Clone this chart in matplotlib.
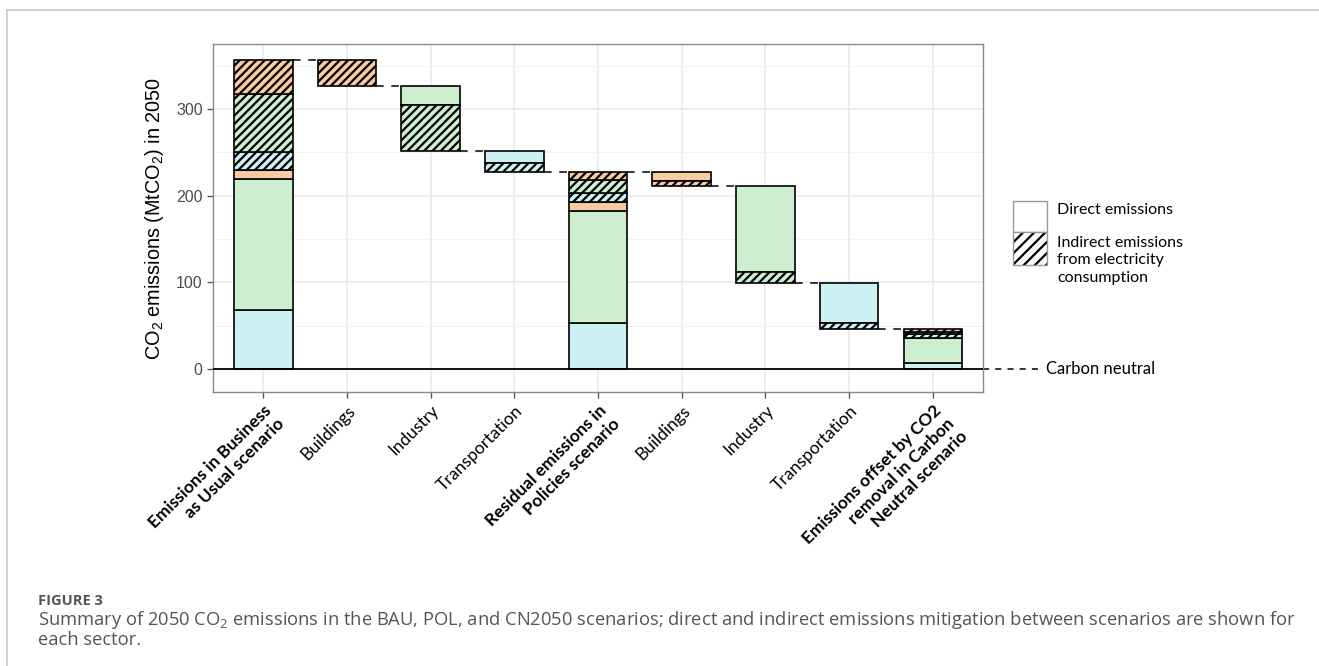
import matplotlib
matplotlib.use('Agg')
import matplotlib.pyplot as plt
from matplotlib.patches import Rectangle
from matplotlib.lines import Line2D
import numpy as np

# x axis categories
categories = ['Emissions in Business\nas Usual scenario', 'Buildings', 'Industry', 'Transportation',
              'Residual emissions in\nPolicies scenario', 'Buildings', 'Industry', 'Transportation',
              'Emissions offset by CO2\nremoval in Carbon\nNeutral scenario']
scenario_labels = [0, 4, 8]

# sector order in the stacks: transportation, industry, buildings  (MtCO2 in 2050)
sectors = ['Transportation', 'Industry', 'Buildings']
sector_colors = ['#cdf2f3', '#cdefd0', '#f9cba2']

bau_direct = [68, 151, 10.5]
bau_indirect = [21, 67, 39]
pol_direct = [53.5, 129, 10.5]
pol_indirect = [10.5, 15, 8.5]
cn_direct = [7, 29, 0]
cn_indirect = [4, 3, 3.5]

# mitigation steps are shown buildings -> industry -> transportation
step_order = [2, 1, 0]

HATCH = '////'
plt.rcParams['hatch.linewidth'] = 1.6
plt.rcParams['hatch.color'] = 'black'

fig = plt.figure(figsize=(13.19, 6.66), dpi=100)
ax = fig.add_axes([0.1615, 0.4114, 0.5838, 0.5225])

bar_w = 0.7
edge_kw = dict(edgecolor='black', linewidth=1.2, zorder=3)


def stacked_bar(x, direct, indirect):
    bottom = 0
    for i in range(3):
        ax.bar(x, direct[i], bar_w, bottom=bottom, color=sector_colors[i], **edge_kw)
        bottom += direct[i]
    for i in range(3):
        ax.bar(x, indirect[i], bar_w, bottom=bottom, color=sector_colors[i], hatch=HATCH, **edge_kw)
        bottom += indirect[i]
    return bottom


def step_bars(x0, top, d_from, i_from, d_to, i_to):
    x = x0
    levels = []
    for s in step_order:
        d = d_from[s] - d_to[s]
        ind = i_from[s] - i_to[s]
        if d > 0:
            ax.bar(x, d, bar_w, bottom=top - d, color=sector_colors[s], **edge_kw)
        top -= d
        if ind > 0:
            ax.bar(x, ind, bar_w, bottom=top - ind, color=sector_colors[s], hatch=HATCH, **edge_kw)
        top -= ind
        levels.append(top)
        x += 1
    return levels


xs = np.arange(1, 10)
bau_total = stacked_bar(1, bau_direct, bau_indirect)
lv1 = step_bars(2, bau_total, bau_direct, bau_indirect, pol_direct, pol_indirect)
pol_total = stacked_bar(5, pol_direct, pol_indirect)
lv2 = step_bars(6, pol_total, pol_direct, pol_indirect, cn_direct, cn_indirect)
cn_total = stacked_bar(9, cn_direct, cn_indirect)

# dashed connectors between consecutive bars
levels = [bau_total] + lv1 + [pol_total] + lv2
for i, lv in enumerate(levels):
    x = xs[i]
    ax.plot([x + bar_w / 2, x + 1 - bar_w / 2], [lv, lv], color='black', lw=1.1,
            ls=(0, (5, 5)), zorder=2)

ax.axhline(0, color='black', lw=1.3, zorder=4)

# carbon neutral reference outside the panel
ax.plot([9.6, 10.26], [0, 0], color='black', lw=1.1, ls=(0, (4, 4)), clip_on=False)
ax.text(10.35, 0, 'Carbon neutral', fontsize=12, family='Lato', va='center', ha='left')

ax.set_xlim(0.4, 9.6)
ax.set_ylim(-26.5, 374.8)
ax.set_yticks([0, 100, 200, 300])
ax.set_yticks([50, 150, 250, 350], minor=True)
ax.grid(True, which='major', color='#e8e8e8', lw=1.1, zorder=0)
ax.grid(True, which='minor', axis='y', color='#f0f0f0', lw=0.6, zorder=0)
ax.set_axisbelow(True)
for sp in ax.spines.values():
    sp.set_color('#8a8a8a')
    sp.set_linewidth(1.0)
ax.tick_params(axis='both', which='major', length=4, color='#555555', width=1.0,
               labelcolor='#4d4d4d', labelsize=11.5)
ax.tick_params(axis='y', which='minor', length=0)
for t in ax.get_yticklabels():
    t.set_family('Liberation Sans')

ax.set_xticks(xs)
ax.set_xticklabels(categories)
for i, t in enumerate(ax.get_xticklabels()):
    t.set_rotation(45)
    t.set_ha('right')
    t.set_va('top')
    t.set_rotation_mode('anchor')
    t.set_family('Lato')
    t.set_fontsize(12.5)
    t.set_color('black')
    if i in scenario_labels:
        t.set_fontweight('bold')

ax.set_ylabel('CO$_\\mathregular{2}$ emissions (MtCO$_\\mathregular{2}$) in 2050',
              fontsize=14.3, family='Liberation Sans', labelpad=7)

# legend keys
px_w, px_h = 1319.0, 666.0
fig.add_artist(Rectangle((1013 / px_w, 1 - 232 / px_h), 34 / px_w, 31 / px_h,
                         transform=fig.transFigure, facecolor='white', edgecolor='#999999', lw=1))
fig.add_artist(Rectangle((1013 / px_w, 1 - 265 / px_h), 34 / px_w, 33 / px_h,
                         transform=fig.transFigure, facecolor='white', edgecolor='black',
                         hatch='///', lw=0))
fig.add_artist(Rectangle((1013 / px_w, 1 - 265 / px_h), 34 / px_w, 33 / px_h,
                         transform=fig.transFigure, fill=False, edgecolor='#999999', lw=1))
fig.text(1057 / px_w, 1 - 210 / px_h, 'Direct emissions', fontsize=11.5, family='Lato', va='center')
fig.text(1057 / px_w, 1 - 236 / px_h, 'Indirect emissions\nfrom electricity\nconsumption',
         fontsize=11.5, family='Lato', va='top', linespacing=1.3)

# page frame and caption
fig.add_artist(Line2D([7 / px_w, 1], [1 - 10 / px_h, 1 - 10 / px_h], transform=fig.transFigure,
                      color='#c8c8c8', lw=1.2))
fig.add_artist(Line2D([7 / px_w, 7 / px_w], [0, 1 - 10 / px_h], transform=fig.transFigure,
                      color='#c8c8c8', lw=1.2))
fig.text(38 / px_w, 1 - 601 / px_h, 'FIGURE 3', fontsize=10.5, family='Open Sans', fontweight='bold',
         color='#555555', va='center')
fig.text(38 / px_w, 1 - 620 / px_h,
         'Summary of 2050 CO$_\\mathregular{2}$ emissions in the BAU, POL, and CN2050 scenarios; direct and '
         'indirect emissions mitigation between scenarios are shown for',
         fontsize=13.2, family='Open Sans', color='#555555', va='center')
fig.text(38 / px_w, 1 - 640 / px_h, 'each sector.', fontsize=13.2, family='Open Sans',
         color='#555555', va='center')

plt.savefig('out.png', dpi=100)
